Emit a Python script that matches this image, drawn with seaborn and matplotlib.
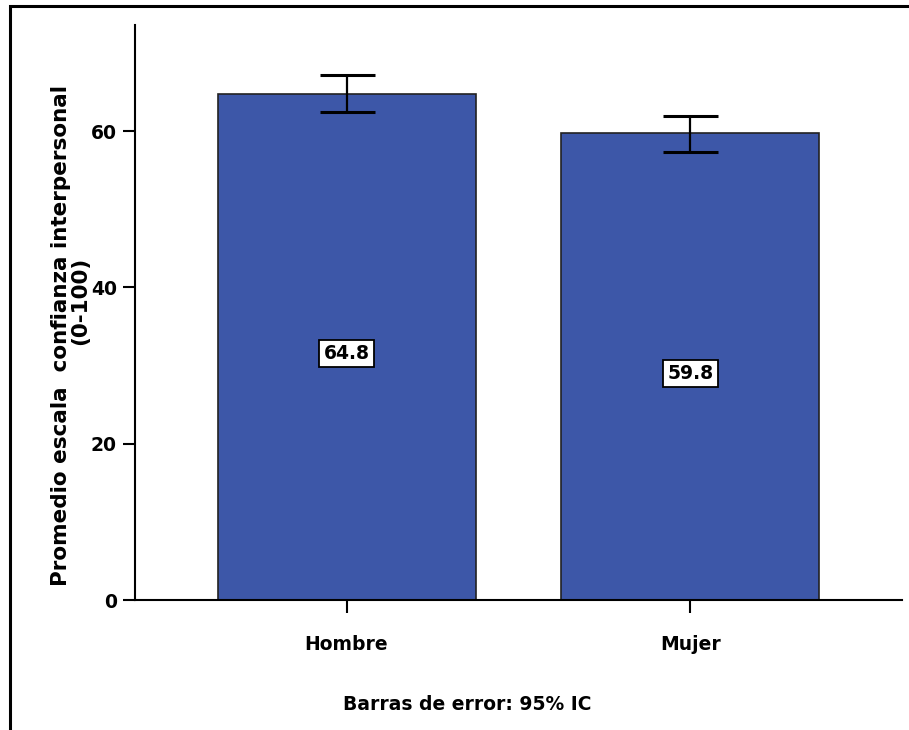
import matplotlib
matplotlib.use("Agg")
import matplotlib.pyplot as plt
import seaborn as sns
import numpy as np
from matplotlib.patches import Rectangle

# data
groups = ["Hombre", "Mujer"]
means = [64.8, 59.8]
ci_low = [62.5, 57.4]
ci_high = [67.2, 62.0]
value_labels = ["64.8", "59.8"]

BAR = "#3D57A8"

sns.set_style("white")
plt.rcParams.update({
    "font.family": "DejaVu Sans",
    "font.weight": "bold",
    "text.color": "black",
    "axes.labelcolor": "black",
    "xtick.color": "black",
    "ytick.color": "black",
})

fig = plt.figure(figsize=(9.09, 7.30), dpi=100)
ax = fig.add_axes([135 / 909, 130 / 730, 767 / 909, 575 / 730])

sns.barplot(
    x=groups, y=means, color=BAR, width=0.75, errorbar=None,
    edgecolor="#222222", linewidth=1.2, saturation=1, ax=ax,
)

m = np.array(means)
yerr = [m - np.array(ci_low), np.array(ci_high) - m]
ax.errorbar(
    x=np.arange(len(groups)), y=m, yerr=yerr, fmt="none",
    ecolor="black", elinewidth=1.6, capsize=19.8, capthick=2.2, zorder=5,
)

# value boxes in the middle of each bar
for i, (v, lab) in enumerate(zip(means, value_labels)):
    ax.annotate(
        lab, (i, v / 2), xytext=(0, -5), textcoords="offset points",
        ha="center", va="center", fontsize=13.5, fontweight="bold",
        bbox=dict(boxstyle="square,pad=0.22", fc="white", ec="black", lw=1.3),
        zorder=6,
    )

ax.set_xlim(-0.615, 1.615)
ax.set_ylim(0, 73.6)
ax.set_yticks([0, 20, 40, 60])
ax.set_xlabel("")
ax.set_ylabel("")

for side in ["top", "right"]:
    ax.spines[side].set_visible(False)
for side in ["left", "bottom"]:
    ax.spines[side].set_color("black")
    ax.spines[side].set_linewidth(1.5)

ax.tick_params(axis="y", direction="out", length=9, width=1.5,
               labelsize=13.5, pad=4, left=True)
ax.tick_params(axis="x", direction="out", length=9, width=1.5,
               labelsize=13.5, pad=16, bottom=True)
for t in ax.get_xticklabels() + ax.get_yticklabels():
    t.set_fontweight("bold")

# two-line y label, placed like the original
fig.text(61 / 909, 1 - 336 / 730, "Promedio escala  confianza interpersonal",
         rotation=90, ha="center", va="center", fontsize=15.5, fontweight="bold")
fig.text(80 / 909, 1 - 301 / 730, "(0-100)",
         rotation=90, ha="center", va="center", fontsize=15.5, fontweight="bold")

fig.text(467 / 909, 1 - 705 / 730, "Barras de error: 95% IC",
         ha="center", va="center", fontsize=13.5, fontweight="bold")

# outer frame (only top and left edges are visible in the crop)
fig.patches.append(Rectangle((10 / 909, -0.1), 1.2, 0.1 + 724 / 730,
                             transform=fig.transFigure, fill=False,
                             ec="black", lw=2.2, zorder=10))

fig.savefig("out.png", dpi=100)
plt.close(fig)
